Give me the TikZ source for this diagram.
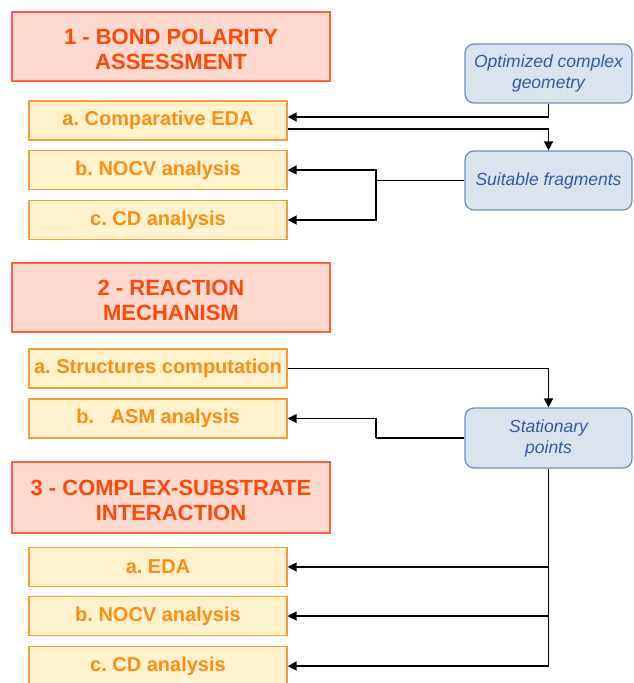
\documentclass[tikz,border=0pt]{standalone}
\usepackage{fontspec}
\setmainfont{Liberation Sans}
\usetikzlibrary{arrows.meta,calc}
\definecolor{hdrfill}{RGB}{253,217,206}
\definecolor{hdrborder}{RGB}{255,98,58}
\definecolor{hdrtext}{RGB}{255,72,10}
\definecolor{subfill}{RGB}{255,242,204}
\definecolor{subborder}{RGB}{255,153,51}
\definecolor{subtext}{RGB}{255,140,20}
\definecolor{inpfill}{RGB}{218,227,238}
\definecolor{inpborder}{RGB}{108,142,191}
\definecolor{inptext}{RGB}{50,90,160}
\frenchspacing
\newcommand{\hdrstrut}{\rule{0pt}{21pt}}
\begin{document}
\begin{tikzpicture}[x=1pt,y=-1pt,
  hdr/.style={draw=hdrborder, fill=hdrfill, line width=1.4pt, minimum width=318pt, minimum height=69pt, align=center, inner sep=0pt, font=\bfseries\fontsize{22}{25}\selectfont, text=hdrtext},
  sub/.style={draw=subborder, fill=subfill, line width=1.4pt, minimum width=258pt, minimum height=39pt, inner sep=0pt, font=\bfseries\fontsize{20}{24}\selectfont, text=subtext},
  inp/.style={draw=inpborder, fill=inpfill, line width=1.3pt, rounded corners=9pt, minimum width=167pt, minimum height=59pt, align=center, inner sep=0pt, font=\itshape\fontsize{17.5}{21}\selectfont, text=inptext},
  con/.style={line width=1.7pt, black},
  arr/.style={con, -{Triangle[length=9pt,width=9pt]}}]
\useasboundingbox (0,0) rectangle (633,683);
% headers
\node[hdr] (h1) at (171,46.5) {\hdrstrut 1 - BOND POLARITY\\ASSESSMENT};
\node[hdr] (h2) at (171,297.5) {\hdrstrut 2 - REACTION\\MECHANISM};
\node[hdr, minimum height=71pt] (h3) at (171,497.5) {\hdrstrut 3 - COMPLEX-SUBSTRATE\\INTERACTION};
% sub boxes
\node[sub] (s1a) at (158,120.5) {a. Comparative EDA};
\node[sub] (s1b) at (158,170) {b. NOCV analysis};
\node[sub] (s1c) at (158,220) {c. CD analysis};
\node[sub] (s2a) at (158,368.5) {a. Structures computation};
\node[sub] (s2b) at (158,418.5) {b.\ \ \ ASM analysis};
\node[sub] (s3a) at (158,567) {a. EDA};
\node[sub] (s3b) at (158,616) {b. NOCV analysis};
\node[sub] (s3c) at (158,666) {c. CD analysis};
% input boxes
\node[inp] (b1) at (548.5,73.5) {Optimized complex\\geometry};
\node[inp] (b2) at (548.5,180.5) {Suitable fragments};
\node[inp, minimum height=60pt] (b3) at (548.5,438) {Stationary\\points};
% connectors
\draw[arr] (b1.south) |- ($(s1a.east)+(0,-3.5)$);
\draw[arr] ($(s1a.east)+(0,8.5)$) -| (b2.north);
\coordinate (j1) at (376,180.5);
\draw[con] (b2.west) -- (j1);
\draw[arr] (j1) |- (s1b.east);
\draw[arr] (j1) |- (s1c.east);
\draw[arr] (s2a.east) -| (b3.north);
\coordinate (j2) at (376,438);
\draw[con] (b3.west) -- (j2);
\draw[arr] (j2) |- (s2b.east);
\draw[con] (b3.south) -- (b3.south |- s3c.east);
\draw[arr] (b3.south |- s3a.east) -- (s3a.east);
\draw[arr] (b3.south |- s3b.east) -- (s3b.east);
\draw[arr] (b3.south |- s3c.east) -- (s3c.east);
\end{tikzpicture}
\end{document}
